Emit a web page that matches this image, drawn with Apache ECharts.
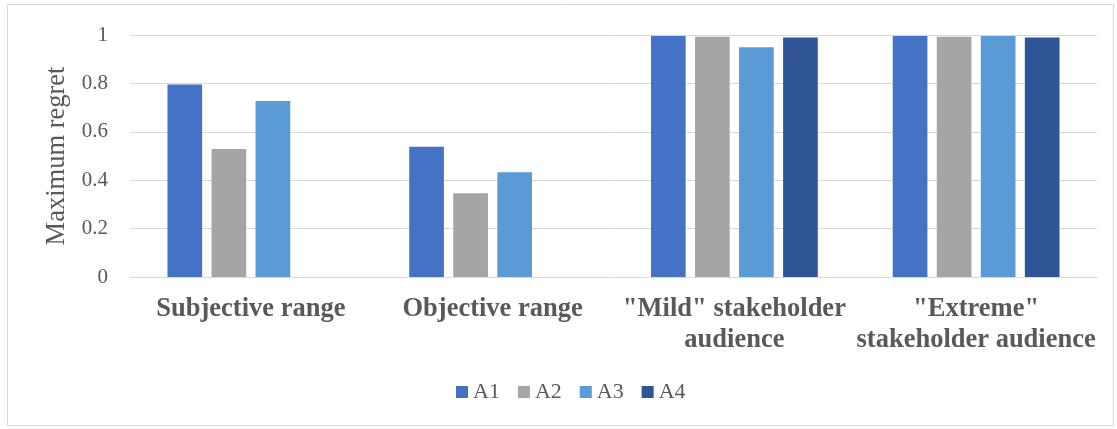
<!DOCTYPE html>
<html>
<head>
<meta charset="utf-8">
<script src="https://cdn.jsdelivr.net/npm/echarts@6/dist/echarts.min.js"></script>
<style>
  html, body { margin: 0; padding: 0; background: #fff; }
  #chart { width: 1117px; height: 429px; }
</style>
</head>
<body>
<div id="chart"></div>
<script>
// Maximum regret per scenario and alternative
const categories = [
  'Subjective range',
  'Objective range',
  '"Mild" stakeholder\naudience',
  '"Extreme"\nstakeholder audience'
];
const seriesNames = ['A1', 'A2', 'A3', 'A4'];
const valuesA1 = [0.795, 0.538, 0.996, 0.996];
const valuesA2 = [0.529, 0.346, 0.993, 0.993];
const valuesA3 = [0.727, 0.433, 0.949, 0.996];
const valuesA4 = [null, null, 0.990, 0.990];
const yTicks = [0, 0.2, 0.4, 0.6, 0.8, 1];

const colors = ['#4472C4', '#A5A5A5', '#5B9BD5', '#2F5597'];
const serif = '"Liberation Serif", "Times New Roman", serif';
const textColor = '#595959';

const allValues = [valuesA1, valuesA2, valuesA3, valuesA4];

const chart = echarts.init(document.getElementById('chart'), null, { renderer: 'canvas' });
chart.setOption({
  animation: false,
  color: colors,
  graphic: [{
    type: 'rect',
    shape: { x: 7.5, y: 4.5, width: 1106, height: 421 },
    style: { fill: 'none', stroke: '#d9d9d9', lineWidth: 1 },
    silent: true
  }],
  grid: { left: 130, right: 20, top: 35, bottom: 152, containLabel: false },
  legend: {
    data: seriesNames,
    left: 456,
    top: 381,
    padding: 0,
    itemWidth: 12,
    itemHeight: 12,
    itemGap: 18,
    icon: 'rect',
    textStyle: { fontFamily: serif, fontSize: 22, color: textColor, padding: [0, 0, 0, 0] }
  },
  xAxis: {
    type: 'category',
    data: categories,
    axisTick: { show: false },
    axisLine: { show: true, lineStyle: { color: '#d9d9d9', width: 1 } },
    axisLabel: {
      interval: 0,
      margin: 17,
      fontFamily: serif,
      fontSize: 26.5,
      fontWeight: 'bold',
      color: textColor,
      lineHeight: 31
    }
  },
  yAxis: {
    type: 'value',
    min: yTicks[0],
    max: yTicks[yTicks.length - 1],
    interval: 0.2,
    name: 'Maximum regret',
    nameLocation: 'middle',
    nameGap: 59,
    nameRotate: 90,
    nameTextStyle: { fontFamily: serif, fontSize: 26.5, color: textColor },
    axisLine: { show: false },
    axisTick: { show: false },
    axisLabel: {
      margin: 22,
      fontFamily: serif,
      fontSize: 21,
      color: textColor
    },
    splitLine: { lineStyle: { color: '#d9d9d9', width: 1 } }
  },
  series: seriesNames.map((name, i) => ({
    name: name,
    type: 'bar',
    data: allValues[i],
    barCategoryGap: '31%',
    barGap: '27%',
    itemStyle: { color: colors[i] }
  }))
});
</script>
</body>
</html>
